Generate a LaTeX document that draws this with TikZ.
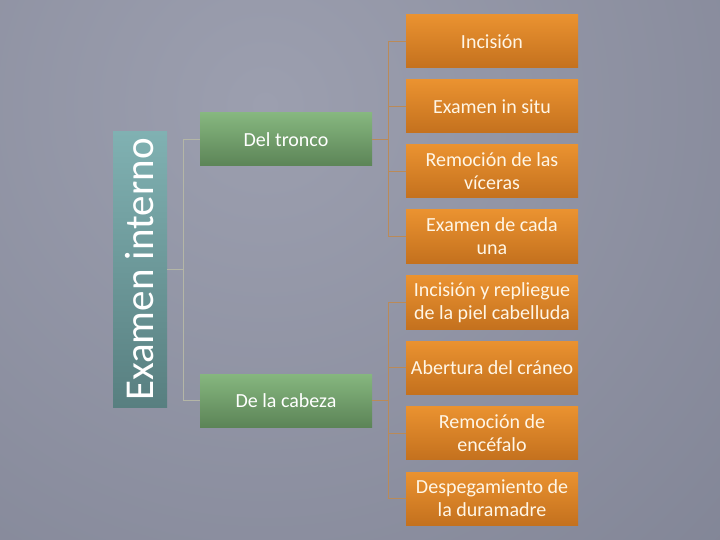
\documentclass[tikz,border=0pt]{standalone}
\usepackage{fontspec}
\setmainfont{Carlito}
\definecolor{bgin}{HTML}{9C9FAF}
\definecolor{bgout}{HTML}{6A6E80}
\definecolor{tealtop}{HTML}{80B1B2}
\definecolor{tealbot}{HTML}{587F80}
\definecolor{greentop}{HTML}{86B77F}
\definecolor{greenbot}{HTML}{5C8457}
\definecolor{orangetop}{HTML}{EA9230}
\definecolor{orangebot}{HTML}{C4711E}
\definecolor{glin}{HTML}{B4B6A6}
\definecolor{olin}{HTML}{BA8A58}
\definecolor{otext}{HTML}{FFF6E6}
\tikzset{
  rootbox/.style={rectangle, inner sep=0pt, minimum width=54bp, minimum height=275bp,
    top color=tealtop, bottom color=tealbot, text=white,
    font=\fontsize{41bp}{41bp}\selectfont},
  greenbox/.style={rectangle, inner sep=1bp, minimum width=172bp, minimum height=53bp,
    top color=greentop, bottom color=greenbot, text=white, align=flush center, text width=168bp,
    font=\fontsize{20bp}{23bp}\selectfont},
  orangebox/.style={rectangle, inner sep=1bp, minimum width=172bp, minimum height=53bp,
    top color=orangetop, bottom color=orangebot, text=otext, align=flush center, text width=170bp,
    font=\fontsize{20bp}{23bp}\selectfont},
  gline/.style={draw=glin, line width=0.8bp},
  oline/.style={draw=olin, line width=0.8bp}
}
\begin{document}
\begin{tikzpicture}[x=1bp,y=-1bp]
\useasboundingbox (0,0) rectangle (720,540);
\begin{scope}
\clip (0,0) rectangle (720,540);
\fill[bgout] (0,0) rectangle (720,540);
\shade[inner color=bgin, outer color=bgout] (265,105) circle (1250);
\end{scope}
\node[rootbox] (root) at (140,269.5) {\rotatebox{90}{Examen interno}};
\node[greenbox] (tronco) at (286,139.5) {Del tronco};
\node[greenbox] (cabeza) at (286,400.5) {De la cabeza};
\node[orangebox] (o1) at (492,41.5) {Incisión};
\node[orangebox] (o2) at (492,106.5) {Examen in situ};
\node[orangebox] (o3) at (492,171.5) {Remoción de las\\víceras};
\node[orangebox] (o4) at (492,236.5) {Examen de cada\\una};
\node[orangebox] (o5) at (492,302.5) {Incisión y repliegue\\de la piel cabelluda};
\node[orangebox] (o6) at (492,367.5) {Abertura del cráneo};
\node[orangebox] (o7) at (492,433) {Remoción de\\encéfalo};
\node[orangebox] (o8) at (492,498.5) {Despegamiento de\\la duramadre};
\draw[gline] (root.east) -- ++(16bp,0) |- (tronco.west);
\draw[gline] (root.east) -- ++(16bp,0) |- (cabeza.west);
\foreach \n in {o1,o2,o3,o4}{
  \draw[oline] (tronco.east) -- ++(16bp,0) |- (\n.west);
}
\foreach \n in {o5,o6,o7,o8}{
  \draw[oline] (cabeza.east) -- ++(16bp,0) |- (\n.west);
}
\end{tikzpicture}
\end{document}
